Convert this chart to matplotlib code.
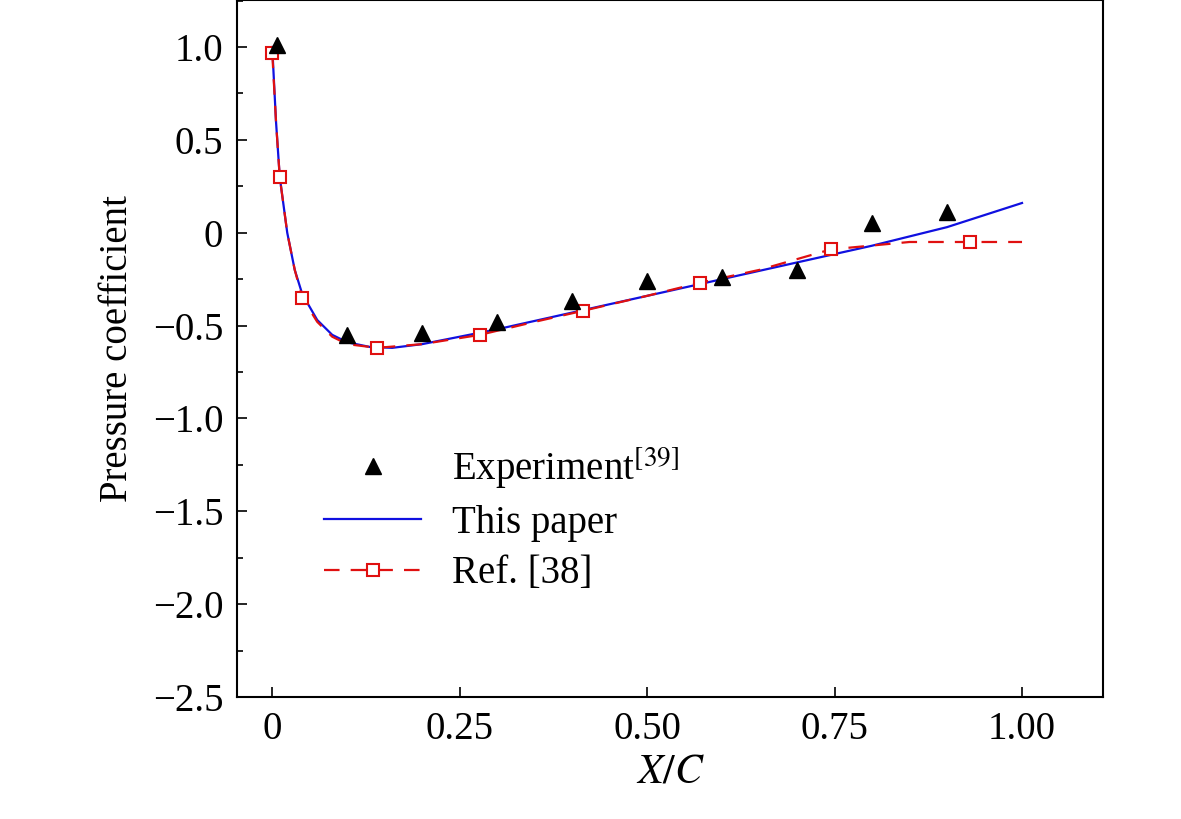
import matplotlib
matplotlib.use('Agg')
import matplotlib.pyplot as plt
from matplotlib.ticker import MultipleLocator

plt.rcParams['font.family'] = ['Liberation Serif', 'DejaVu Serif']
plt.rcParams['mathtext.fontset'] = 'stix'

# experiment points
exp_x = [0.006, 0.1, 0.2, 0.3, 0.4, 0.5, 0.6, 0.7, 0.8, 0.9]
exp_y = [1.01, -0.55, -0.54, -0.48, -0.37, -0.26, -0.24, -0.2, 0.05, 0.11]

# this paper
paper_x = [0.0, 0.005, 0.01, 0.02, 0.03, 0.04, 0.06, 0.08, 0.1, 0.13, 0.16,
           0.2, 0.3, 0.4, 0.5, 0.6, 0.7, 0.8, 0.9, 1.0]
paper_y = [1.0, 0.6, 0.3, 0.0, -0.2, -0.33, -0.47, -0.55, -0.59, -0.615, -0.62,
           -0.6, -0.52, -0.43, -0.34, -0.25, -0.16, -0.07, 0.03, 0.16]

# Ref. [38]
ref_x = [0.0, 0.005, 0.01, 0.02, 0.03, 0.04, 0.06, 0.08, 0.1, 0.14, 0.2,
         0.277, 0.35, 0.415, 0.5, 0.57, 0.65, 0.745, 0.85, 0.93, 1.0]
ref_y = [0.97, 0.6, 0.3, 0.0, -0.2, -0.35, -0.48, -0.56, -0.6, -0.62, -0.6,
         -0.55, -0.48, -0.42, -0.34, -0.27, -0.2, -0.09, -0.05, -0.05, -0.05]
ref_marks = [0, 2, 5, 9, 11, 13, 15, 17, 19]

fig = plt.figure(figsize=(11.81, 8.19), dpi=100)
ax = fig.add_axes([237 / 1181, 1 - 697 / 819, (1103 - 237) / 1181, 697 / 819])

ax.plot(paper_x, paper_y, color='#1010e0', lw=1.6, label='This paper')
ax.plot(ref_x, ref_y, color='#e01010', lw=1.6, ls=(0, (7, 5)), marker='s',
        markevery=ref_marks, ms=8, mfc='white', mec='#e01010', mew=1.5,
        label='Ref. [38]')
ax.plot(exp_x, exp_y, ls='none', marker='^', ms=12, color='black',
        label='Experiment$^{[39]}$')

ax.set_xlim(-0.047, 1.108)
ax.set_ylim(-2.5, 1.253)
ax.set_xticks([0, 0.25, 0.5, 0.75, 1.0])
ax.set_xticklabels(['0', '0.25', '0.50', '0.75', '1.00'])
ax.set_yticks([-2.5, -2.0, -1.5, -1.0, -0.5, 0, 0.5, 1.0])
ax.set_yticklabels(['\u22122.5', '\u22122.0', '\u22121.5', '\u22121.0',
                    '\u22120.5', '0', '0.5', '1.0'])
ax.yaxis.set_minor_locator(MultipleLocator(0.25))
ax.tick_params(direction='in', labelsize=28, length=7, width=1.2, pad=10)
ax.tick_params(which='minor', direction='in', length=4, width=1.2)
for s in ax.spines.values():
    s.set_linewidth(1.5)

ax.set_xlabel('$X/C$', fontsize=30, labelpad=4)
ax.set_ylabel('Pressure coefficient', fontsize=28, labelpad=12)

h, l = ax.get_legend_handles_labels()
ax.legend([h[2], h[0], h[1]], [l[2], l[0], l[1]], loc='lower left',
          bbox_to_anchor=(0.06, 0.1), frameon=False, fontsize=28,
          handlelength=2.5, labelspacing=0.35, handletextpad=0.8)

fig.savefig('out.png', dpi=100)
